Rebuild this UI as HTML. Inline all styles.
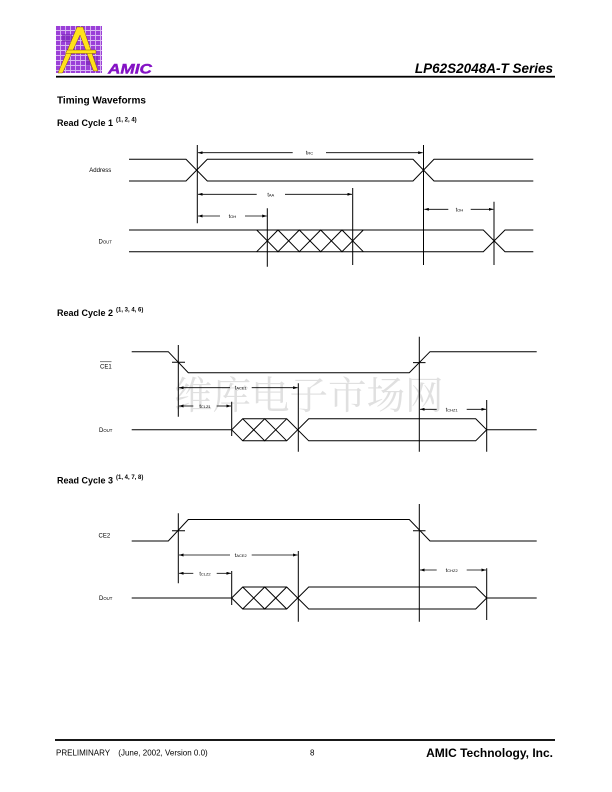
<!DOCTYPE html>
<html>
<head>
<meta charset="utf-8">
<style>
  html,body{margin:0;padding:0;background:#fff;}
  svg{display:block;}
  text{font-family:"Liberation Sans", Arial, sans-serif;}
</style>
</head>
<body>
<svg width="612" height="792" viewBox="0 0 612 792" xmlns="http://www.w3.org/2000/svg">
  <defs>
    <marker id="ah" viewBox="0 0 6 4" refX="6" refY="2" markerWidth="4.5" markerHeight="3" markerUnits="userSpaceOnUse" orient="auto">
      <path d="M0,0 L6,2 L0,4 z" fill="#000"/>
    </marker>
    <pattern id="grid" width="5" height="5" patternUnits="userSpaceOnUse">
      <rect width="5" height="5" fill="#9b3fd8"/>
      <path d="M0,0.5 H5 M0.5,0 V5" stroke="#d9b8f2" stroke-width="0.9"/>
    </pattern>
  </defs>

  <!-- watermark -->
  <text x="174" y="409" font-size="38.5" fill="#e0e0e0" style='font-family:"Noto Serif CJK SC","Noto Sans CJK SC",serif;'>维库电子市场网</text>

  <!-- Header logo -->
  <rect x="56" y="26" width="46" height="47" fill="url(#grid)"/>
  <rect x="62" y="34" width="10" height="8" fill="#7a1fb8" opacity="0.6"/>
  <rect x="86" y="56" width="12" height="10" fill="#7a1fb8" opacity="0.6"/>
  <polygon points="58,73 77,27 83,27 98,71 93.5,71 80,35 62.5,73" fill="#ffe21a" stroke="#6a3a00" stroke-width="0.4"/>
  <polygon points="67,50 96,50 96,53.5 65.5,53.5" fill="#ffe21a" stroke="#6a3a00" stroke-width="0.4"/>
  <text x="108" y="73.5" font-size="14" font-weight="900" font-style="italic" fill="#8412c4" textLength="44" lengthAdjust="spacingAndGlyphs" stroke="#8412c4" stroke-width="0.4">AMIC</text>
  <text x="553" y="73" font-size="13.5" font-weight="bold" font-style="italic" text-anchor="end">LP62S2048A-T Series</text>
  <rect x="56" y="75.8" width="499" height="1.8" fill="#000"/>

  <!-- Headings -->
  <text x="57" y="103.6" font-size="10" font-weight="bold">Timing Waveforms</text>
  <text x="57" y="126" font-size="9" font-weight="bold">Read Cycle 1</text>
  <text x="116" y="121.5" font-size="6" font-weight="bold">(1, 2, 4)</text>

  <text x="57" y="316" font-size="9" font-weight="bold">Read Cycle 2</text>
  <text x="116" y="311.5" font-size="6" font-weight="bold">(1, 3, 4, 6)</text>

  <text x="57" y="483.5" font-size="9" font-weight="bold">Read Cycle 3</text>
  <text x="116" y="479" font-size="6" font-weight="bold">(1, 4, 7, 8)</text>

  <g fill="none" stroke="#000" stroke-width="1">
    <!-- ===== Read Cycle 1 ===== -->
    <path d="M129,159.3 H186 L207.3,181 H413 L434,159.3 H533.3"/>
    <path d="M129,181 H186 L207.3,159.3 H413 L434,181 H533.3"/>
    <path d="M129,230 H483.3 L505,251.7 H533.3"/>
    <path d="M129,251.7 H483.3 L505,230 H533.3"/>
    <path d="M256.7,230 L278,251.7 L299.3,230 L320.7,251.7 L342,230 L363.3,251.7"/>
    <path d="M256.7,251.7 L278,230 L299.3,251.7 L320.7,230 L342,251.7 L363.3,230"/>
    <path d="M197.3,145 V223.3 M267.3,208.3 V266.7 M352.7,188 V265 M423.5,145 V265 M494,201.7 V265"/>

    <!-- ===== Read Cycle 2 ===== -->
    <path d="M131.7,351.7 H168.3 L188.3,372.7 H409.3 L430,351.7 H536.7"/>
    <path d="M172,362.2 H185 M413,362.6 H425.5"/>
    <path d="M178.3,345 V416.7 M231.7,401.7 V436 M298.3,383.3 V451.7 M419.3,336.7 V451.7 M486.7,400 V451.7"/>
    <path d="M131.7,429.8 H231.7 L242.7,418.8 H286.7 L308.7,440.8 H475.7 L486.7,429.8 H536.7"/>
    <path d="M231.7,429.8 L242.7,440.8 H286.7 L308.7,418.8 H475.7 L486.7,429.8"/>
    <path d="M242.7,418.8 L264.7,440.8 L286.7,418.8 M242.7,440.8 L264.7,418.8 L286.7,440.8"/>

    <!-- ===== Read Cycle 3 ===== -->
    <path d="M131.7,541 H168.3 L188.3,519.5 H409.3 L430,541 H536.7"/>
    <path d="M172,530.7 H185 M413,530.7 H425.5"/>
    <path d="M178.3,513.3 V583.3 M231.7,571 V605 M298.3,551 V621.7 M419.3,504 V621.7 M486.7,568.3 V620"/>
    <path d="M131.7,598 H231.7 L242.7,587 H286.7 L308.7,609 H475.7 L486.7,598 H536.7"/>
    <path d="M231.7,598 L242.7,609 H286.7 L308.7,587 H475.7 L486.7,598"/>
    <path d="M242.7,587 L264.7,609 L286.7,587 M242.7,609 L264.7,587 L286.7,609"/>
  </g>

  <!-- arrows -->
  <g stroke="#000" stroke-width="0.8" fill="none" marker-end="url(#ah)">
    <line x1="292.7" y1="152.7" x2="198" y2="152.7"/>
    <line x1="326" y1="152.7" x2="422.7" y2="152.7"/>
    <line x1="256.7" y1="194.3" x2="198" y2="194.3"/>
    <line x1="285" y1="194.3" x2="352" y2="194.3"/>
    <line x1="220" y1="216" x2="198" y2="216"/>
    <line x1="245" y1="216" x2="266.7" y2="216"/>
    <line x1="448.3" y1="209.3" x2="424.3" y2="209.3"/>
    <line x1="470.7" y1="209.3" x2="493.3" y2="209.3"/>
    <line x1="230" y1="387.7" x2="179" y2="387.7"/>
    <line x1="251.7" y1="387.7" x2="297.6" y2="387.7"/>
    <line x1="193.3" y1="406" x2="179" y2="406"/>
    <line x1="216.7" y1="406" x2="231" y2="406"/>
    <line x1="436.7" y1="409.3" x2="420" y2="409.3"/>
    <line x1="466.7" y1="409.3" x2="486" y2="409.3"/>
    <line x1="230" y1="555" x2="179" y2="555"/>
    <line x1="251.7" y1="555" x2="297.6" y2="555"/>
    <line x1="193.3" y1="573.3" x2="179" y2="573.3"/>
    <line x1="216.7" y1="573.3" x2="231" y2="573.3"/>
    <line x1="436.7" y1="570" x2="420" y2="570"/>
    <line x1="466.7" y1="570" x2="486" y2="570"/>
  </g>

  <!-- signal labels -->
  <g font-size="6">
    <text x="89.3" y="172">Address</text>
    <text x="98.5" y="243.5">D<tspan font-size="4.3">OUT</tspan></text>
    <text x="100" y="368.3">CE1</text>
    <line x1="100" y1="361.8" x2="111.5" y2="361.8" stroke="#000" stroke-width="0.5"/>
    <text x="99" y="431.8">D<tspan font-size="4.3">OUT</tspan></text>
    <text x="98.5" y="537.3">CE2</text>
    <text x="99" y="600">D<tspan font-size="4.3">OUT</tspan></text>
  </g>

  <!-- timing labels -->
  <g font-size="5.5" text-anchor="middle">
    <text x="309.5" y="154.6">t<tspan font-size="4">RC</tspan></text>
    <text x="270.8" y="196.3">t<tspan font-size="4">AA</tspan></text>
    <text x="232.5" y="218">t<tspan font-size="4">OH</tspan></text>
    <text x="459.5" y="211.3">t<tspan font-size="4">OH</tspan></text>
    <text x="240.8" y="389.7">t<tspan font-size="4">ACE1</tspan></text>
    <text x="205" y="408">t<tspan font-size="4">CLZ1</tspan></text>
    <text x="451.7" y="411.3">t<tspan font-size="4">CHZ1</tspan></text>
    <text x="240.8" y="557">t<tspan font-size="4">ACE2</tspan></text>
    <text x="205" y="575.3">t<tspan font-size="4">CLZ2</tspan></text>
    <text x="451.7" y="572">t<tspan font-size="4">CHZ2</tspan></text>
  </g>

  <!-- Footer -->
  <rect x="55" y="739.1" width="500" height="1.8" fill="#000"/>
  <text x="56" y="755.6" font-size="8">PRELIMINARY</text>
  <text x="118.3" y="755.6" font-size="8">(June, 2002, Version 0.0)</text>
  <text x="310" y="755.6" font-size="8">8</text>
  <text x="553" y="757" font-size="12" font-weight="bold" text-anchor="end">AMIC Technology, Inc.</text>
</svg>
</body>
</html>
